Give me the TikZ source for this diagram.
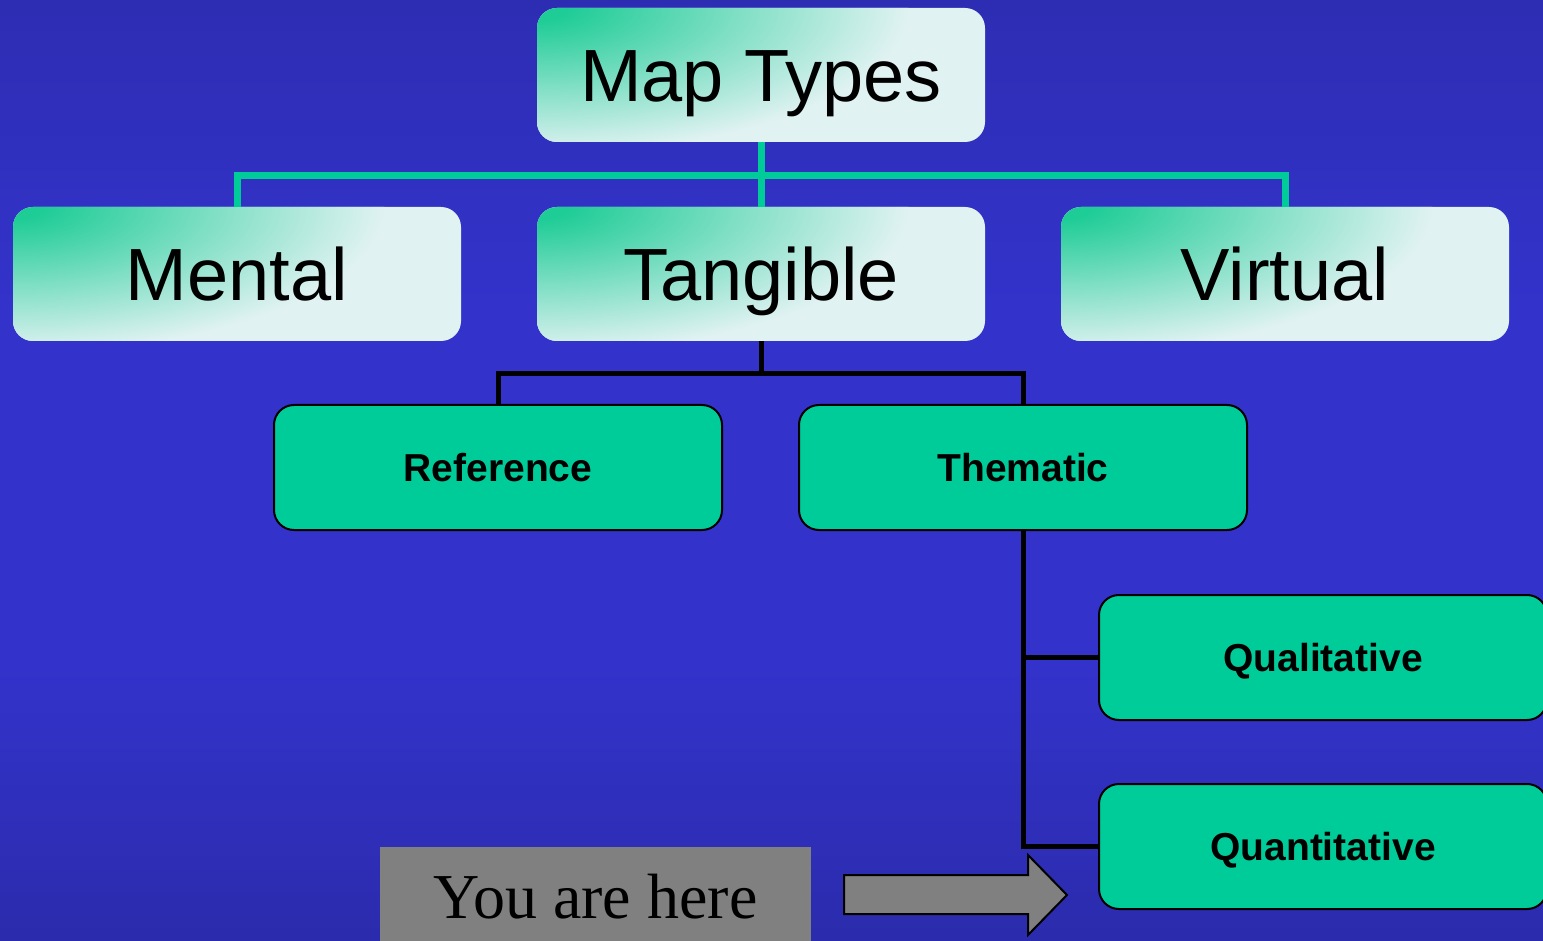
\documentclass[tikz,border=0pt]{standalone}
\usepackage{fontspec}
\setmainfont{Liberation Sans}
\newfontfamily\timesfont{Liberation Serif}
\usetikzlibrary{calc}
\definecolor{bgtop}{HTML}{24248F}
\definecolor{bgmid}{HTML}{3333CC}
\definecolor{bgbot}{HTML}{1E1E78}
\definecolor{boxgreen}{HTML}{00CC99}
\definecolor{glow}{HTML}{1ECC96}
\definecolor{pale}{HTML}{E0F2F2}
\definecolor{heregray}{HTML}{808080}
\pgfdeclareradialshading{glowshade}{\pgfpoint{0bp}{0bp}}{color(0bp)=(glow); color(4bp)=(glow); color(50bp)=(pale)}
\pgfdeclareverticalshading{bgshade}{100bp}{color(0bp)=(bgbot); color(40bp)=(bgmid); color(58bp)=(bgmid); color(100bp)=(bgtop)}
\tikzset{
  topbox/.style={rounded corners=20pt, minimum width=448pt, minimum height=134pt, inner sep=0pt,
    fill=pale, path picture={
      \begin{pgfscope}
        \pgftransformshift{\pgfpointanchor{path picture bounding box}{north west}}
        \pgftransformxscale{7.4}\pgftransformyscale{2.9}
        \pgflowlevelsynccm
        \pgfuseshading{glowshade}
      \end{pgfscope}},
    font=\fontsize{74}{80}\selectfont, text height=53pt, text depth=0pt},
  greenbox/.style={rounded corners=20pt, minimum width=448pt, minimum height=125pt, inner sep=0pt,
    draw=black, line width=2pt, fill=boxgreen,
    font=\bfseries\fontsize{39}{44}\selectfont, text height=28pt, text depth=0pt},
  gline/.style={draw=boxgreen, line width=7pt},
  bline/.style={draw=black, line width=5pt},
}
\begin{document}
\begin{tikzpicture}[x=1pt,y=-1pt]
\useasboundingbox (0,0) rectangle (1543,941);
\clip (0,0) rectangle (1543,941);
\shade[shading=bgshade] (0,0) rectangle (1543,941);
% top level
\node[topbox] (maptypes) at (761,75) {Map Types};
\node[topbox] (mental) at (237,274) {Mental};
\node[topbox] (tangible) at (761,274) {Tangible};
\node[topbox] (virtual) at (1285,274) {Virtual};
% second level
\node[greenbox] (reference) at (498,467.5) {Reference};
\node[greenbox] (thematic) at (1023,467.5) {Thematic};
\node[greenbox] (qualitative) at (1323,657.5) {Qualitative};
\node[greenbox] (quantitative) at (1323,846.5) {Quantitative};
% connectors
\coordinate (gbar) at (761,176);
\coordinate (tbar) at (761,374);
\draw[gline] (maptypes.south) -- (tangible.north);
\draw[gline] (mental.north) |- (gbar) -| (virtual.north);
\draw[bline] (tangible.south) -- (tbar);
\draw[bline] (reference.north) |- (tbar) -| (thematic.north);
\draw[bline] (thematic.south) |- (quantitative.west);
\draw[bline] (qualitative.west) -- (qualitative.west -| thematic.south);
% you are here
\node[fill=heregray, minimum width=431pt, minimum height=100pt, inner sep=0pt,
  font=\timesfont\fontsize{64}{70}\selectfont, text height=42pt, text depth=0pt] (here) at (595.5,897) {You are here};
\draw[fill=heregray, line width=2pt, line join=miter] (844,875) -- (1028,875) -- (1028,855) -- (1067,895) -- (1028,935) -- (1028,914) -- (844,914) -- cycle;
\end{tikzpicture}
\end{document}
